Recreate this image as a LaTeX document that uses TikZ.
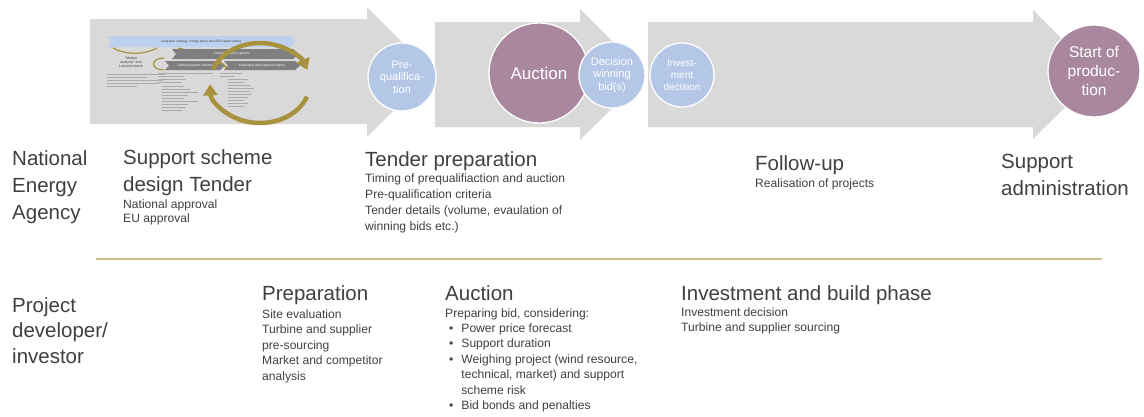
\documentclass[tikz,border=0pt]{standalone}
\usepackage{fontspec}
\setmainfont{Liberation Sans}
\usetikzlibrary{arrows.meta}
\definecolor{arrowgray}{HTML}{D9D9D9}
\definecolor{circblue}{HTML}{B4C7E7}
\definecolor{circpurple}{HTML}{A9889F}
\definecolor{txt}{HTML}{404040}
\definecolor{gold}{HTML}{A8923E}
\definecolor{rulecol}{HTML}{CCBE8C}
\definecolor{bandblue}{HTML}{BDD1EE}
\definecolor{banddark}{HTML}{7F7F7F}
\definecolor{tinytxt}{HTML}{ABABAB}
\newcommand\mylines[1]{\begin{tabular}[t]{@{}l@{}}#1\end{tabular}}
\tikzset{
  phase/.style={fill=arrowgray, draw=none},
  milestone/.style={circle, draw=white, line width=1.3pt, text=white, align=center, inner sep=0pt},
  bluems/.style={milestone, fill=circblue, font=\fontsize{11}{12.5}\selectfont},
  purplems/.style={milestone, fill=circpurple},
  head/.style={anchor=base west, inner sep=0pt, text=txt, font=\fontsize{20.5}{27}\selectfont},
  body/.style={anchor=base west, inner sep=0pt, text=txt, font=\fontsize{12.1}{15.5}\selectfont},
  tinylabel/.style={inner sep=0pt, font=\fontsize{3.2}{3.6}\selectfont, align=center},
  tinyline/.style={draw=tinytxt, line width=0.6pt},
  goldarrow/.style={draw=gold, line width=4.5pt, -{Triangle[width=14pt,length=11pt]}},
  goldthin/.style={draw=gold, line width=1.2pt},
}
\begin{document}
\begin{tikzpicture}[x=1pt,y=-1pt]
\useasboundingbox (0,0) rectangle (1144,416);

% ---- phase arrows
\path[phase] (90,19) -- (367,19) -- (367,7) -- (432,72) -- (367,137) -- (367,124) -- (90,124) -- cycle;
\path[phase] (435,22) -- (580,22) -- (580,9) -- (646,75) -- (580,140) -- (580,127) -- (435,127) -- cycle;
\path[phase] (648,22) -- (1033,22) -- (1033,10) -- (1098,75) -- (1033,139) -- (1033,127) -- (648,127) -- cycle;

% ---- mini diagram inside first arrow
\path[fill=bandblue] (107,36) -- (290,36) -- (296,41.5) -- (290,47) -- (107,47) -- (112,41.5) -- cycle;
\node[tinylabel, text=txt] (mlong) at (201,41.5) {Long-term strategy, energy policy and RES target setting};
\draw[goldthin] (113,48) .. controls (125,55) and (145,55) .. (157,48);
\draw[goldthin] (178,48) .. controls (200,54) and (265,54) .. (288,48);
\path[fill=banddark] (172,49) -- (293,49) -- (299,54) -- (293,59) -- (172,59) -- (176,54) -- cycle;
\node[tinylabel, text=white] (mdesign) at (232,54) {Designing policy options};
\path[fill=banddark] (165,61) -- (220,61) -- (225,65.5) -- (220,70) -- (165,70) -- (169,65.5) -- cycle;
\node[tinylabel, text=white] (mdraft) at (195,65.5) {Drafting support scheme};
\path[fill=banddark] (224,61) -- (295,61) -- (300,65.5) -- (295,70) -- (224,70) -- (228,65.5) -- cycle;
\node[tinylabel, text=white] (meval) at (262,65.5) {Evaluating draft support scheme};
\node[tinylabel, text=txt, font=\fontsize{3.6}{4.2}\selectfont] (mmarket) at (131,62) {``Market\\analysis'' and\\Lessons learnt};
\draw[goldthin] (164,58) .. controls (150,58) and (150,70) .. (164,70);
\draw[goldthin] (214,70) .. controls (214,61) and (226,61) .. (226,70);
% tiny bullet text
\foreach \yy/\len in {74/58,77/40,80/56,83/52,86/30}{\draw[tinyline] (107,\yy) -- ++(\len,0);}
\foreach \yy/\len in {73/55,76/26,79/28,82/24}{\draw[tinyline] (158,\yy) -- ++(\len,0);}
\foreach \yy/\len in {86/22,89/28,92/36,95/26,98/22,101/36,104/26,107/24,110/20}{\draw[tinyline] (162,\yy) -- ++(\len,0);}
\foreach \yy/\len in {73/22,76/14}{\draw[tinyline] (220,\yy) -- ++(\len,0);}
\foreach \yy/\len in {79/20,82/16,85/22,88/26,91/22,94/24,97/20,100/16,103/20,106/16}{\draw[tinyline] (228,\yy) -- ++(\len,0);}
% gold cycle arrows
\draw[goldarrow] (260,83) ++(200:50 and 40) arc[start angle=200, end angle=341, x radius=50, y radius=40];
\draw[goldarrow] (260,83) ++(20:50 and 40) arc[start angle=20, end angle=178, x radius=50, y radius=40];

% ---- milestones
\node[bluems, minimum size=68pt] (preq) at (402,77) {Pre-\\qualifica-\\tion};
\node[purplems, minimum size=100pt, font=\fontsize{17}{20}\selectfont] (auct) at (539,73) {Auction};
\node[bluems, minimum size=66pt] (dec) at (612,75) {Decision\\winning\\bid(s)};
\node[bluems, minimum size=64pt, font=\fontsize{10}{12}\selectfont] (inv) at (682,75) {Invest-\\ment\\decision};
\node[purplems, minimum size=92pt, font=\fontsize{15.5}{19}\selectfont] (start) at (1094,71) {Start of\\produc-\\tion};

% ---- National Energy Agency row
\node[head] (nea) at (12,165) {\mylines{National\\Energy\\Agency}};
\node[head] (ssd) at (123,164) {\mylines{Support scheme\\design Tender}};
\node[body, font=\fontsize{12.1}{14}\selectfont] (ssdb) at (123,208) {\mylines{National approval\\EU approval}};
\node[head] (tp) at (365,166) {Tender preparation};
\node[body, font=\fontsize{12.1}{16.3}\selectfont] (tpb) at (365,182) {\mylines{Timing of prequalifiaction and auction\\Pre-qualification criteria\\Tender details (volume, evaulation of\\winning bids etc.)}};
\node[head] (fu) at (755,170) {Follow-up};
\node[body] (fub) at (755,187) {Realisation of projects};
\node[head] (sa) at (1001,168) {\mylines{Support\\administration}};

% ---- divider
\draw[rulecol, line width=1.6pt] (96,259) coordinate (rl) -- (1102,259) coordinate (rr);

% ---- Project developer row
\node[head, font=\fontsize{20.5}{25.5}\selectfont] (pdi) at (12,312) {\mylines{Project\\developer/\\investor}};
\node[head] (prep) at (262,300) {Preparation};
\node[body] (prepb) at (262,318) {\mylines{Site evaluation\\Turbine and supplier\\pre-sourcing\\Market and competitor\\analysis}};
\node[head] (auc) at (445,300) {Auction};
\node[body] (aucb) at (445,317) {Preparing bid, considering:};
\node[body] (aucl) at (449,332) {\begin{tabular}[t]{@{}l@{\hspace{8pt}}l@{}}\textbullet & Power price forecast\\ \textbullet & Support duration\\ \textbullet & Weighing project (wind resource,\\ & technical, market) and support\\ & scheme risk\\ \textbullet & Bid bonds and penalties\end{tabular}};
\node[head] (inb) at (681,300) {Investment and build phase};
\node[body] (inbb) at (681,316) {\mylines{Investment decision\\Turbine and supplier sourcing}};
\end{tikzpicture}
\end{document}
